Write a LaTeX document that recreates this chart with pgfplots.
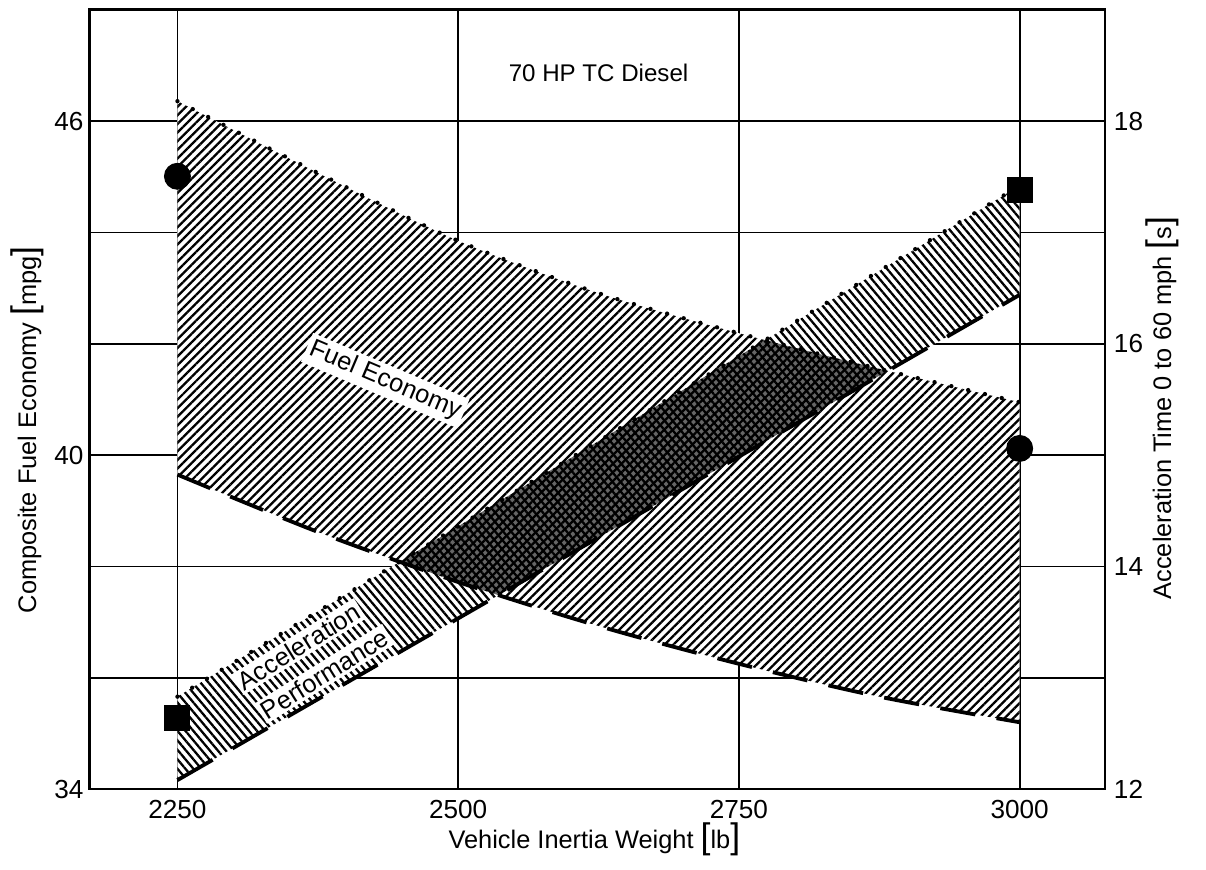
\documentclass[border=0pt]{standalone}
\usepackage{fontspec}
\setmainfont{Liberation Sans}
\usepackage{pgfplots}
\usepackage{pgfplotstable}
\pgfplotsset{compat=1.18}
\usepgfplotslibrary{fillbetween}
\usetikzlibrary{patterns.meta}
\newcommand\lbr{{\fontsize{14}{14}\selectfont[}}
\newcommand\rbr{{\fontsize{14}{14}\selectfont]}}

\pgfplotstableread{
w mpg
2250 46.36
2375 45.07
2500 43.85
2625 42.91
2750 42.19
2875 41.55
3000 40.95
}\fuelupper
\pgfplotstableread{
w mpg
2250 39.65
2375 38.62
2500 37.72
2625 36.93
2750 36.25
2875 35.66
3000 35.20
}\fuellower
\pgfplotstableread{
w s
2250 12.83
3000 17.42
}\accupper
\pgfplotstableread{
w s
2250 12.08
3000 16.44
}\acclower

\begin{document}
\begin{tikzpicture}
\pgfplotsset{
  common/.style={
    scale only axis, width=400pt, height=307pt,
    xmin=2172, xmax=3076,
    major tick length=0pt,
    /pgf/number format/assume math mode=true,
    /pgf/number format/1000 sep={},
    tick label style={font=\fontsize{10.3}{12}\selectfont},
    label style={font=\fontsize{10}{12}\selectfont},
  }
}
\begin{axis}[common,
  ymin=34, ymax=48,
  xtick={2250,2500,2750,3000},
  ytick={34,36,...,46}, yticklabels={34,,,40,,,46},
  yticklabel pos=left,
  grid=major, major grid style={black, line width=0.7pt},
  axis line style={line width=1.1pt},
  xticklabel style={yshift=-0.8pt},
  yticklabel style={xshift=1pt},
  xlabel={Vehicle Inertia Weight \lbr lb\rbr},
  xlabel style={at={(axis description cs:0.497,-0.064)}, anchor=center},
  ylabel={Composite Fuel Economy \lbr mpg\rbr},
  ylabel style={at={(axis description cs:-0.062,0.461)}, anchor=center},
]
\addplot[draw=none, smooth, name path=FU] table[x=w,y=mpg]{\fuelupper};
\addplot[draw=none, smooth, name path=FL] table[x=w,y=mpg]{\fuellower};
\addplot[draw=none, name path=AU] table[x=w, y expr={34+2*(\thisrow{s}-12)}]{\accupper};
\addplot[draw=none, name path=AL] table[x=w, y expr={34+2*(\thisrow{s}-12)}]{\acclower};
\addplot[fill=white, draw=none] fill between[of=FU and FL];
\addplot[fill=white, draw=none] fill between[of=AU and AL];
\addplot[draw=none, pattern={Lines[angle=45,distance=2.4pt,line width=0.9pt]}] fill between[of=FU and FL];
\addplot[draw=none, pattern={Lines[angle=-50,distance=2.4pt,line width=0.9pt]}] fill between[of=AU and AL];
\addplot[black, smooth, line width=1.7pt, line cap=round, dash pattern=on 0pt off 6.8pt] table[x=w,y=mpg]{\fuelupper};
\addplot[black, smooth, line width=1.5pt, dash pattern=on 14pt off 8.5pt] table[x=w,y=mpg]{\fuellower};
\addplot[black, only marks, mark=*, mark size=5.1pt] coordinates {(2250,45.01) (3000,40.12)};
\begin{scope}
\clip[intersection segments={of=AU and AL, sequence={A* -- B*[reverse]}}] -- cycle;
\fill[black, fill opacity=0.6, intersection segments={of=FU and FL, sequence={A* -- B*[reverse]}}] -- cycle;
\end{scope}
\node[fill=white, inner sep=1.5pt, rotate=-23, font=\fontsize{10}{12}\selectfont] at (axis cs:2435,41.34) {Fuel Economy};
\node[fill=white, inner sep=1pt, rotate=32, font=\fontsize{10}{12}\selectfont] at (axis cs:2358,36.56) {Acceleration};
\node[fill=white, inner sep=1pt, rotate=32, font=\fontsize{10}{12}\selectfont] at (axis cs:2381,36.07) {Performance};
\node[font=\fontsize{9.5}{12}\selectfont] at (axis cs:2625,46.86) {70 HP TC Diesel};
\end{axis}
\begin{axis}[common,
  ymin=12, ymax=19,
  hide x axis,
  ytick={12,14,16,18},
  yticklabel pos=right,
  axis line style={line width=1.1pt},
  ylabel={Acceleration Time 0 to 60 mph \lbr s\rbr},
  ylabel style={at={(axis description cs:1.056,0.489)}, anchor=center},
]
\addplot[black, line width=1.7pt, line cap=round, dash pattern=on 0pt off 6.8pt] table[x=w,y=s]{\accupper};
\addplot[black, line width=1.5pt, dash pattern=on 16pt off 9pt] table[x=w,y=s]{\acclower};
\addplot[black, only marks, mark=square*, mark size=4.9pt] coordinates {(2250,12.64) (3000,17.38)};
\end{axis}
\pgfresetboundingbox
\path[use as bounding box] ([shift={(-35.4pt,-31.9pt)}]current axis.south west) rectangle ([shift={(39.8pt,3.9pt)}]current axis.north east);
\end{tikzpicture}
\end{document}
